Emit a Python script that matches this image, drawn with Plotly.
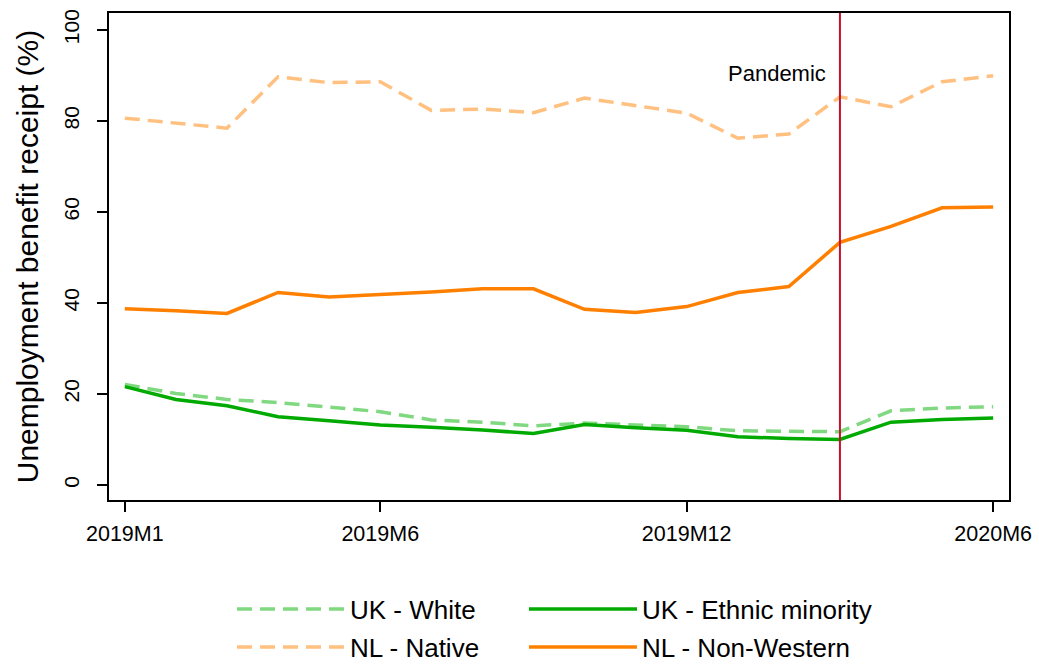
import plotly.graph_objects as go

# Monthly series, 2019M1 .. 2020M6
months = ["2019M1", "2019M2", "2019M3", "2019M4", "2019M5", "2019M6",
          "2019M7", "2019M8", "2019M9", "2019M10", "2019M11", "2019M12",
          "2020M1", "2020M2", "2020M3", "2020M4", "2020M5", "2020M6"]

uk_white = [22.1, 20.1, 18.8, 18.1, 17.1, 16.1, 14.3, 13.8, 13.0, 13.6,
            13.2, 12.8, 11.9, 11.8, 11.7, 16.3, 16.9, 17.2]
uk_minority = [21.6, 18.8, 17.4, 15.0, 14.1, 13.2, 12.7, 12.1, 11.3, 13.3,
               12.6, 12.0, 10.6, 10.2, 10.0, 13.8, 14.4, 14.7]
nl_native = [80.6, 79.5, 78.4, 89.7, 88.4, 88.6, 82.3, 82.6, 81.8, 85.0,
             83.3, 81.7, 76.2, 77.1, 85.3, 83.1, 88.6, 89.9]
nl_nonwestern = [38.7, 38.3, 37.7, 42.3, 41.3, 41.8, 42.4, 43.1, 43.1, 38.6,
                 37.9, 39.2, 42.3, 43.6, 53.3, 56.8, 60.9, 61.1]

tick_months = ["2019M1", "2019M6", "2019M12", "2020M6"]
y_ticks = [0, 20, 40, 60, 80, 100]
pandemic_month = "2020M3"
pandemic_label = "Pandemic"

x_idx = list(range(len(months)))
tick_idx = [months.index(m) for m in tick_months]
pan_idx = months.index(pandemic_month)

FONT = "Liberation Sans, Arial, Helvetica, sans-serif"
DASH = "15px,8px"

# (name, values, colour, dash, legend slot)
series = [
    ("UK - White", uk_white, "#80d880", DASH, "legend"),
    ("UK - Ethnic minority", uk_minority, "#00aa00", "solid", "legend2"),
    ("NL - Native", nl_native, "#ffc080", DASH, "legend3"),
    ("NL - Non-Western", nl_nonwestern, "#ff8000", "solid", "legend4"),
]

fig = go.Figure()
for name, vals, color, dash, leg in series:
    fig.add_trace(go.Scatter(x=x_idx, y=vals, mode="lines", name=name,
                             line=dict(color=color, width=3.5, dash=dash),
                             legend=leg, showlegend=True))

fig.add_shape(type="line", xref="x", yref="paper", x0=pan_idx, x1=pan_idx, y0=0, y1=1,
              line=dict(color="#c8102e", width=2))
fig.add_annotation(x=pan_idx, y=90, xref="x", yref="y", text=pandemic_label,
                   showarrow=False, xanchor="right", yanchor="middle", xshift=-12,
                   yshift=2, font=dict(family=FONT, size=22, color="#000000"))

legend_common = dict(orientation="h", xanchor="left", yanchor="middle",
                     itemwidth=108,
                     font=dict(family=FONT, size=26, color="#000000"),
                     bgcolor="rgba(0,0,0,0)", borderwidth=0)
col_x = [0.1367, 0.4611]
row_y = [-0.2238, -0.3018]

fig.update_layout(
    width=1039, height=664,
    showlegend=True,
    margin=dict(l=109, r=30, t=13, b=164, autoexpand=False),
    paper_bgcolor="white", plot_bgcolor="white",
    font=dict(family=FONT, color="#000000"),
    legend=dict(x=col_x[0], y=row_y[0], **legend_common),
    legend2=dict(x=col_x[1], y=row_y[0], **legend_common),
    legend3=dict(x=col_x[0], y=row_y[1], **legend_common),
    legend4=dict(x=col_x[1], y=row_y[1], **legend_common),
    xaxis=dict(range=[-0.31, 17.31], tickmode="array", tickvals=tick_idx,
               ticktext=tick_months, ticks="outside", ticklen=10, tickwidth=1.5,
               tickcolor="#000000", showline=True, linecolor="#000000", linewidth=2,
               mirror=True, showgrid=False, zeroline=False, ticklabelstandoff=3,
               tickfont=dict(family=FONT, size=21.5, color="#000000")),
    yaxis=dict(range=[-3.3, 103.7], tickmode="array", tickvals=y_ticks,
               ticks="outside", ticklen=10, tickwidth=1.5, tickcolor="#000000",
               tickangle=-90, showline=True, linecolor="#000000", linewidth=2,
               mirror=True, showgrid=False, zeroline=False, ticklabelstandoff=10,
               tickfont=dict(family=FONT, size=21, color="#000000"),
               title=dict(text="Unemployment benefit receipt (%)", standoff=12,
                          font=dict(family=FONT, size=30, color="#000000"))),
)

fig.write_html("out.html")
